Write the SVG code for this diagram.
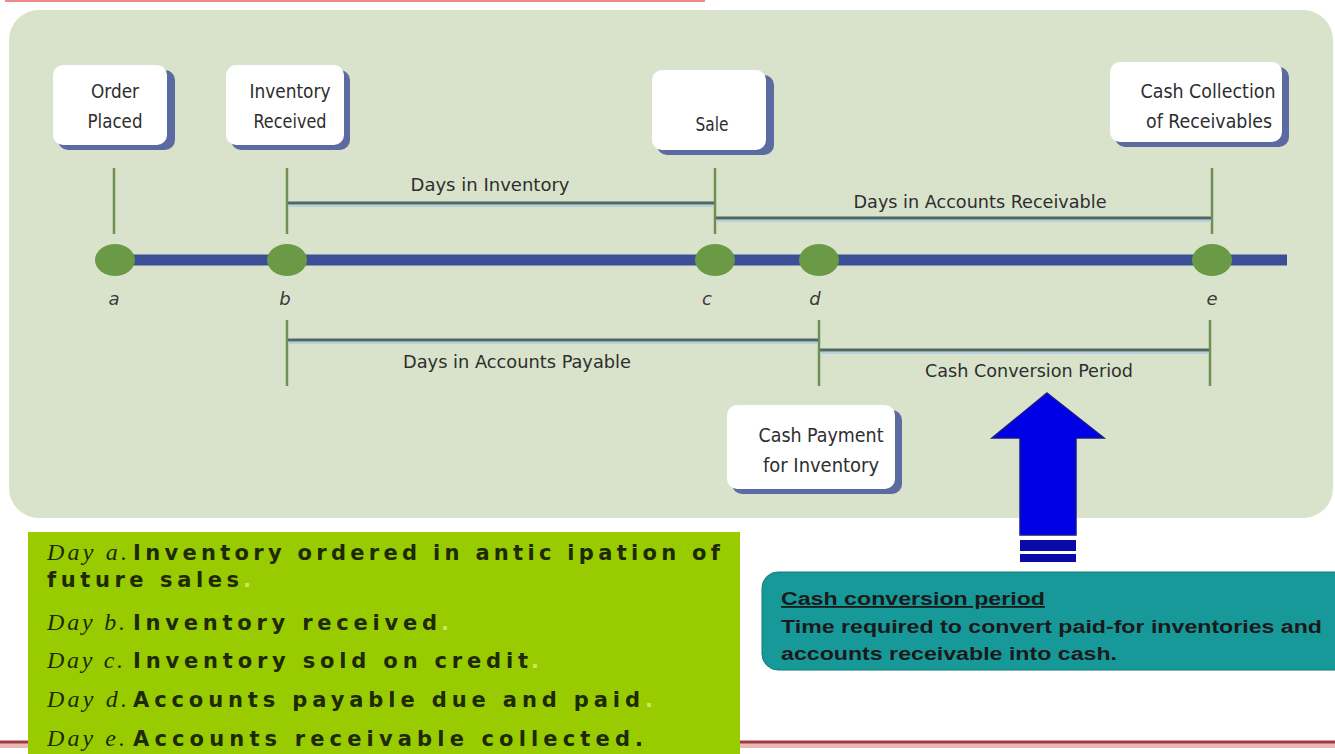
<svg xmlns="http://www.w3.org/2000/svg" width="1335" height="754" viewBox="0 0 1335 754">
<style>
.lbl{font-family:"DejaVu Sans Condensed","Liberation Sans Narrow","Liberation Sans",sans-serif;font-size:20px;fill:#2e2e2e;text-anchor:middle}
.span{font-family:"DejaVu Sans Condensed","Liberation Sans Narrow","Liberation Sans",sans-serif;font-size:18px;fill:#2e2e2e;text-anchor:middle}
.let{font-family:"DejaVu Sans","Liberation Sans",sans-serif;font-style:italic;font-size:18px;fill:#3a3a3a;text-anchor:middle}
.tick{stroke:#6f8f55;stroke-width:2.5}
.bar{stroke:#4e6868;stroke-width:3}
.halo{stroke:#b8d0dc;stroke-width:2}
.shadow{fill:#5b6aa0}
.card{fill:#ffffff}
.dot{fill:#6a9a46}
.day{font-family:"Liberation Serif",serif;font-style:italic;font-size:24px;fill:#1e2a05}
.bt{font-family:"DejaVu Sans","Liberation Sans",sans-serif;font-weight:bold;font-size:21px;fill:#1e2a05}
.dotp{fill:#c8e860}
.cc{font-family:"Liberation Sans",sans-serif;font-weight:bold;font-size:18px;fill:#1a1a1a}
</style>
<rect x="0" y="0" width="1335" height="754" fill="#ffffff"/>
<line x1="5" y1="1" x2="705" y2="1" stroke="#f08a8a" stroke-width="2"/>
<rect id="panel" x="9" y="10" width="1324" height="508" rx="30" fill="#d9e3cb"/>

<g id="connectors">
  <line x1="115" y1="260" x2="1287" y2="260" stroke="#3c4f96" stroke-width="11"/>
  <line class="tick" x1="114" y1="168" x2="114" y2="234"/>
  <line class="tick" x1="287" y1="168" x2="287" y2="234"/>
  <line class="tick" x1="715" y1="168" x2="715" y2="234"/>
  <line class="tick" x1="1212" y1="168" x2="1212" y2="234"/>
  <line class="tick" x1="287" y1="320" x2="287" y2="386"/>
  <line class="tick" x1="819" y1="320" x2="819" y2="386"/>
  <line class="tick" x1="1210" y1="320" x2="1210" y2="386"/>
  <line class="halo" x1="288" y1="206" x2="714" y2="206"/>
  <line class="bar" x1="288" y1="203" x2="714" y2="203"/>
  <line class="halo" x1="716" y1="221" x2="1211" y2="221"/>
  <line class="bar" x1="716" y1="218" x2="1211" y2="218"/>
  <line class="halo" x1="288" y1="343" x2="818" y2="343"/>
  <line class="bar" x1="288" y1="340" x2="818" y2="340"/>
  <line class="halo" x1="820" y1="353" x2="1209" y2="353"/>
  <line class="bar" x1="820" y1="350" x2="1209" y2="350"/>
</g>

<g id="point-a"><ellipse class="dot" cx="115" cy="260" rx="20" ry="16"/><text class="let" x="114" y="305">a</text></g>
<g id="point-b"><ellipse class="dot" cx="287" cy="260" rx="20" ry="16"/><text class="let" x="285" y="305">b</text></g>
<g id="point-c"><ellipse class="dot" cx="715" cy="260" rx="20" ry="16"/><text class="let" x="707" y="305">c</text></g>
<g id="point-d"><ellipse class="dot" cx="819" cy="260" rx="20" ry="16"/><text class="let" x="815" y="305">d</text></g>
<g id="point-e"><ellipse class="dot" cx="1212" cy="260" rx="20" ry="16"/><text class="let" x="1212" y="305">e</text></g>

<g id="span-labels">
  <text class="span" x="490" y="191" textLength="159" lengthAdjust="spacingAndGlyphs">Days in Inventory</text>
  <text class="span" x="980" y="208" textLength="253" lengthAdjust="spacingAndGlyphs">Days in Accounts Receivable</text>
  <text class="span" x="517" y="368" textLength="228" lengthAdjust="spacingAndGlyphs">Days in Accounts Payable</text>
  <text class="span" x="1029" y="377" textLength="208" lengthAdjust="spacingAndGlyphs">Cash Conversion Period</text>
</g>

<g id="order-placed">
  <rect class="shadow" x="58" y="70" width="117" height="80" rx="10"/>
  <rect class="card" x="53" y="65" width="114" height="80" rx="10"/>
  <text class="lbl" x="115" y="98" textLength="48" lengthAdjust="spacingAndGlyphs">Order</text>
  <text class="lbl" x="115" y="128" textLength="55" lengthAdjust="spacingAndGlyphs">Placed</text>
</g>
<g id="inventory-received">
  <rect class="shadow" x="231" y="70" width="119" height="80" rx="10"/>
  <rect class="card" x="226" y="65" width="118" height="80" rx="10"/>
  <text class="lbl" x="290" y="98" textLength="81" lengthAdjust="spacingAndGlyphs">Inventory</text>
  <text class="lbl" x="290" y="128" textLength="73" lengthAdjust="spacingAndGlyphs">Received</text>
</g>
<g id="sale">
  <rect class="shadow" x="657" y="75" width="117" height="80" rx="10"/>
  <rect class="card" x="652" y="70" width="114" height="80" rx="10"/>
  <text class="lbl" x="712" y="131" textLength="33" lengthAdjust="spacingAndGlyphs">Sale</text>
</g>
<g id="cash-collection">
  <rect class="shadow" x="1115" y="67" width="174" height="80" rx="10"/>
  <rect class="card" x="1110" y="62" width="172" height="80" rx="10"/>
  <text class="lbl" x="1208" y="98" textLength="135" lengthAdjust="spacingAndGlyphs">Cash Collection</text>
  <text class="lbl" x="1209" y="128" textLength="126" lengthAdjust="spacingAndGlyphs">of Receivables</text>
</g>
<g id="cash-payment">
  <rect class="shadow" x="732" y="410" width="170" height="84" rx="10"/>
  <rect class="card" x="727" y="405" width="168" height="84" rx="10"/>
  <text class="lbl" x="821" y="442" textLength="125" lengthAdjust="spacingAndGlyphs">Cash Payment</text>
  <text class="lbl" x="821" y="472" textLength="116" lengthAdjust="spacingAndGlyphs">for Inventory</text>
</g>

<g id="bottom-rule">
  <line x1="0" y1="745" x2="1335" y2="745" stroke="#e8b8b8" stroke-width="6"/>
  <line x1="0" y1="742" x2="1335" y2="742" stroke="#9b3c3c" stroke-width="3"/>
</g>

<g id="big-arrow">
  <polygon points="1047,393 1104,438 1076,438 1076,535 1020,535 1020,438 992,438" fill="#0000e6" stroke="#1a1a8a" stroke-width="1.5"/>
  <rect x="1020" y="540" width="56" height="11" fill="#0a0aa8"/>
  <rect x="1020" y="554" width="56" height="8" fill="#0a0aa8"/>
</g>

<g id="cash-conversion-note">
  <rect x="762" y="572" width="600" height="98" rx="16" fill="#17999a" stroke="#117a7b" stroke-width="1"/>
  <text class="cc" x="781" y="605" text-decoration="underline" textLength="264" lengthAdjust="spacingAndGlyphs">Cash conversion period</text>
  <text class="cc" x="781" y="633" textLength="541" lengthAdjust="spacingAndGlyphs">Time required to convert paid-for inventories and</text>
  <text class="cc" x="781" y="660" textLength="336" lengthAdjust="spacingAndGlyphs">accounts receivable into cash.</text>
</g>

<g id="day-list">
  <rect x="28" y="532" width="712" height="222" fill="#99cc00"/>
  <text y="560"><tspan class="day" x="47" textLength="80" lengthAdjust="spacing">Day a.</tspan><tspan class="bt" x="133" textLength="587" lengthAdjust="spacing">Inventory  ordered in antic ipation of</tspan></text>
  <text y="587"><tspan class="bt" x="47" textLength="192" lengthAdjust="spacing">future sales</tspan><tspan class="bt dotp" x="243">.</tspan></text>
  <text y="630"><tspan class="day" x="47" textLength="78" lengthAdjust="spacing">Day b.</tspan><tspan class="bt" x="133" textLength="304" lengthAdjust="spacing">Inventory received</tspan><tspan class="bt dotp" x="441">.</tspan></text>
  <text y="668"><tspan class="day" x="47" textLength="76" lengthAdjust="spacing">Day c.</tspan><tspan class="bt" x="133" textLength="395" lengthAdjust="spacing">Inventory  sold on credit</tspan><tspan class="bt dotp" x="531">.</tspan></text>
  <text y="707"><tspan class="day" x="47" textLength="80" lengthAdjust="spacing">Day d.</tspan><tspan class="bt" x="133" textLength="507" lengthAdjust="spacing">Accounts payable due and paid</tspan><tspan class="bt dotp" x="645">.</tspan></text>
  <text y="746"><tspan class="day" x="47" textLength="78" lengthAdjust="spacing">Day e.</tspan><tspan class="bt" x="133" textLength="497" lengthAdjust="spacing">Accounts receivable collected</tspan><tspan class="bt" x="635">.</tspan></text>
</g>
</svg>
